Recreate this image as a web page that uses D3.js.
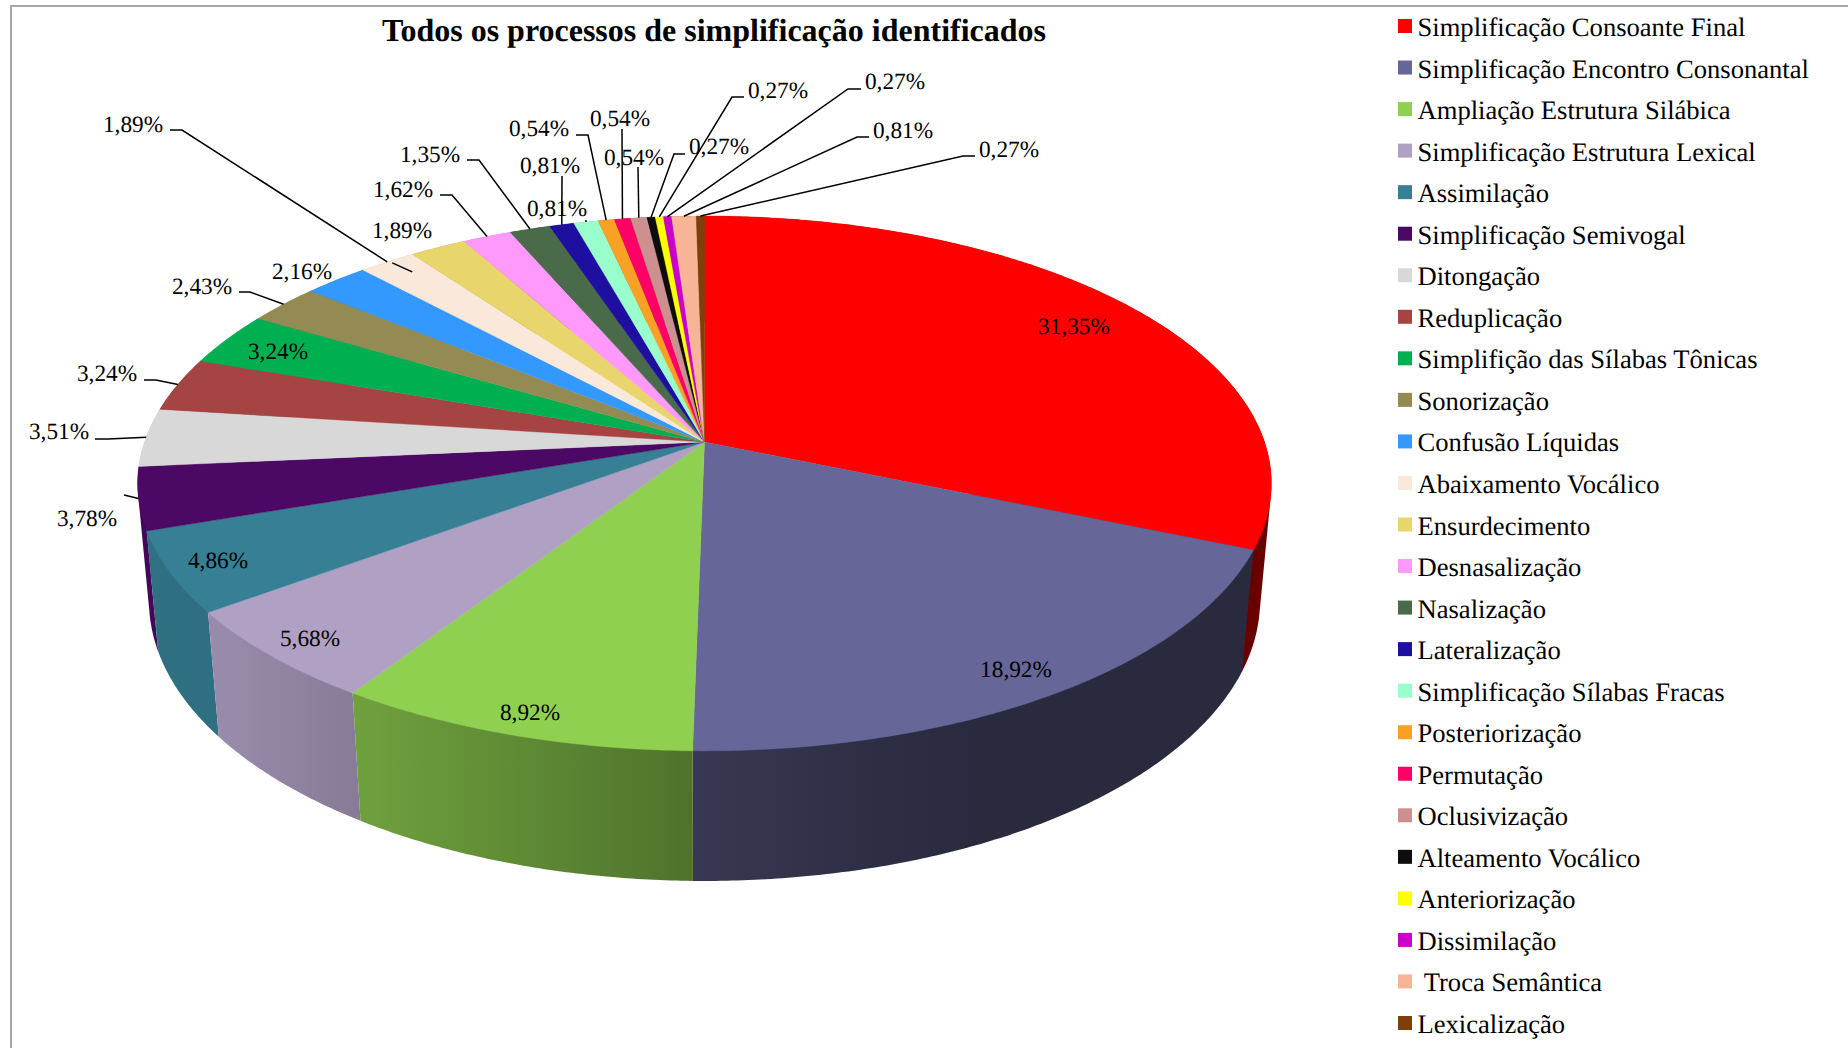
<!DOCTYPE html>
<html lang="pt">
<head>
<meta charset="utf-8">
<title>Todos os processos de simplificação identificados</title>
<script src="https://cdn.jsdelivr.net/npm/d3@7"></script>
<style>
  html, body { margin: 0; padding: 0; background: #fff; overflow: hidden; }
  svg { display: block; }
  text { font-family: "Liberation Serif", "Times New Roman", serif; fill: #000; text-rendering: geometricPrecision; }
</style>
</head>
<body>
<svg id="chart" width="1848" height="1048"></svg>
<script>
const titleText = "Todos os processos de simplificação identificados";

const categories = [
  "Simplificação Consoante Final", "Simplificação Encontro Consonantal",
  "Ampliação Estrutura Silábica", "Simplificação Estrutura Lexical",
  "Assimilação", "Simplificação Semivogal", "Ditongação", "Reduplicação",
  "Simplifição das Sílabas Tônicas", "Sonorização", "Confusão Líquidas",
  "Abaixamento Vocálico", "Ensurdecimento", "Desnasalização", "Nasalização",
  "Lateralização", "Simplificação Sílabas Fracas", "Posteriorização",
  "Permutação", "Oclusivização", "Alteamento Vocálico", "Anteriorização",
  "Dissimilação", " Troca Semântica", "Lexicalização"
];

const percentages = [
  31.35, 18.92, 8.92, 5.68, 4.86, 3.78, 3.51, 3.24, 3.24, 2.43, 2.16, 1.89,
  1.89, 1.62, 1.35, 0.81, 0.81, 0.54, 0.54, 0.54, 0.27, 0.27, 0.27, 0.81, 0.27
];

const sliceColors = [
  "#ff0000", "#666699", "#90d050", "#b0a0c4", "#367f94", "#4b0864", "#d8d8d8",
  "#a64444", "#00b050", "#948a54", "#3399ff", "#fae8da", "#e8d56c", "#ff99fb",
  "#4a6b4a", "#1f0fa0", "#99ffcc", "#f9a124", "#ff0066", "#cc9090", "#0d0d0d",
  "#ffff00", "#cc00cc", "#f8b497", "#7f3f0a"
];

// Hand placement of the value labels: centre of the text, then the optional
// leader that runs from the label to the rim of its slice.
const labelPlacement = [
  { at: [1074, 326] }, { at: [1016, 669] }, { at: [530, 712] }, { at: [310, 638] },
  { at: [218, 560] },
  { at: [87, 518], leader: [[124, 495]] },
  { at: [59, 431], leader: [[95, 439], [108, 439]] },
  { at: [107, 373], leader: [[144, 380], [156, 380]] },
  { at: [278, 351] },
  { at: [202, 286], leader: [[239, 292], [250, 292]] },
  { at: [302, 271] },
  { at: [133, 124], leader: [[170, 130], [182, 130]] },
  { at: [402, 230] },
  { at: [403, 189], leader: [[440, 195], [452, 195]] },
  { at: [430, 154], leader: [[467, 160], [479, 160]] },
  { at: [550, 165], leader: [[562, 176]] },
  { at: [557, 208], leader: [[586, 220]] },
  { at: [539, 128], leader: [[576, 135], [588, 135]] },
  { at: [620, 118], leader: [[622, 129]] },
  { at: [634, 157], leader: [[638, 167]] },
  { at: [719, 146], leader: [[685, 154], [674, 154]] },
  { at: [778, 90], leader: [[744, 97], [732, 97]] },
  { at: [895, 81], leader: [[861, 89], [848, 89]] },
  { at: [903, 130], leader: [[869, 137], [857, 137]] },
  { at: [1009, 149], leader: [[975, 156], [963, 156]] }
];

const svg = d3.select("#chart");
const defs = svg.append("defs");

// Perspective view of the tilted disc: the near rim is stretched, the hub sits
// above the centre of the visible ellipse and the lower face is slightly smaller.
const view = { hubX: 704.5, hubY: 442, halfWidth: 560, halfHeight: 261, tilt: 0.155, drop: 118.7, dropScale: 0.02 };

function project(angle, depth) {
  const u = Math.sin(angle), v = Math.cos(angle);
  const w = 1 + view.tilt * v + view.dropScale * depth;
  return [
    view.hubX + view.halfWidth * u / w,
    view.hubY + (-view.halfHeight * v + view.drop * depth) / w
  ];
}

function arcAngles(a0, a1) {
  const steps = Math.max(2, Math.ceil((a1 - a0) / (Math.PI / 360)));
  return d3.range(steps + 1).map(i => a0 + (a1 - a0) * i / steps);
}

const pieLayout = d3.pie().sort(null).value(d => d)(percentages);
const fillOf = d3.scaleOrdinal().domain(d3.range(categories.length)).range(sliceColors);
const pathOf = d3.line();

// Side wall brightness falls from the lit left edge towards the right.
const wallShade = d3.scaleLinear()
  .domain([150, 220, 360, 693, 950, 1280])
  .range([0.88, 0.87, 0.77, 0.55, 0.41, 0.41]);

const slices = pieLayout.map((d, i) => {
  const angles = arcAngles(d.startAngle, d.endAngle);
  const mid = (d.startAngle + d.endAngle) / 2;
  return { i, d, angles, mid, rim: project(mid, 0) };
});

// Walls first, far side to near side; the top face then covers what is hidden.
const wallOrder = slices.slice().sort((a, b) => Math.cos(b.mid) - Math.cos(a.mid));

wallOrder.forEach(s => {
  const xs = s.angles.flatMap(a => [project(a, 0)[0], project(a, 1)[0]]);
  const [x0, x1] = d3.extent(xs);
  const base = d3.rgb(fillOf(s.i));
  const grad = defs.append("linearGradient")
    .attr("id", "wall" + s.i)
    .attr("gradientUnits", "userSpaceOnUse")
    .attr("x1", x0).attr("x2", x1 + 0.01).attr("y1", 0).attr("y2", 0);
  d3.range(9).forEach(k => {
    const t = k / 8, f = wallShade(x0 + (x1 - x0) * t);
    grad.append("stop")
      .attr("offset", t)
      .attr("stop-color", d3.rgb(base.r * f, base.g * f, base.b * f).formatHex());
  });
});

// Each wall is the hull of its two arcs, so the silhouette tangent between the
// upper and lower rims stays filled.
svg.append("g").attr("class", "walls")
  .selectAll("path")
  .data(wallOrder)
  .join("path")
  .attr("fill", s => `url(#wall${s.i})`)
  .attr("d", s => pathOf(d3.polygonHull(
    s.angles.flatMap(a => [project(a, 0), project(a, 1)])
  )) + "Z");

svg.append("g").attr("class", "top-face")
  .selectAll("path")
  .data(slices)
  .join("path")
  .attr("fill", s => fillOf(s.i))
  .attr("stroke", s => fillOf(s.i))
  .attr("stroke-width", 0.4)
  .attr("d", s => pathOf(
    [[view.hubX, view.hubY]].concat(s.angles.map(a => project(a, 0)))
  ) + "Z");

// Leaders
const leaderLine = s => pathOf(labelPlacement[s.i].leader.concat([s.rim]));
svg.append("g").attr("class", "leaders")
  .selectAll("path")
  .data(slices.filter(s => labelPlacement[s.i].leader))
  .join("path")
  .attr("fill", "none")
  .attr("stroke", "#000")
  .attr("stroke-width", 1.5)
  .attr("d", leaderLine);

// Short tail of the Abaixamento Vocálico leader, inside its slice
const tailSlice = slices[categories.indexOf("Abaixamento Vocálico")];
svg.select(".leaders").append("path")
  .attr("fill", "none").attr("stroke", "#000").attr("stroke-width", 1.5)
  .attr("d", pathOf([[tailSlice.rim[0] + 5, tailSlice.rim[1] + 1], [tailSlice.rim[0] + 25, tailSlice.rim[1] + 10]]));

// Value labels
const formatValue = v => v.toFixed(2).replace(".", ",") + "%";
svg.append("g").attr("class", "value-labels")
  .selectAll("text")
  .data(slices)
  .join("text")
  .attr("x", s => labelPlacement[s.i].at[0])
  .attr("y", s => labelPlacement[s.i].at[1])
  .attr("dy", "0.33em")
  .attr("text-anchor", "middle")
  .attr("font-size", 23.3)
  .text(s => formatValue(percentages[s.i]));

// Title
svg.append("text")
  .attr("x", 714).attr("y", 41)
  .attr("text-anchor", "middle")
  .attr("font-size", 32)
  .attr("font-weight", "bold")
  .text(titleText);

// Legend
const legendRow = d3.scalePoint()
  .domain(d3.range(categories.length))
  .range([19, 1016]);

const legend = svg.append("g").attr("class", "legend")
  .selectAll("g")
  .data(categories)
  .join("g")
  .attr("transform", (_, i) => `translate(1398,${legendRow(i)})`);

legend.append("rect")
  .attr("width", 14).attr("height", 14)
  .attr("fill", (_, i) => fillOf(i));

legend.append("text")
  .attr("x", 19.5).attr("y", 17)
  .attr("font-size", 26.6)
  .style("white-space", "pre")
  .text(d => d);

// Chart frame, open at the right and bottom
svg.append("path")
  .attr("fill", "none").attr("stroke", "#a6a6a6").attr("stroke-width", 2)
  .attr("d", d3.line()([[11, 1048], [11, 6], [1848, 6]]));
</script>
</body>
</html>
